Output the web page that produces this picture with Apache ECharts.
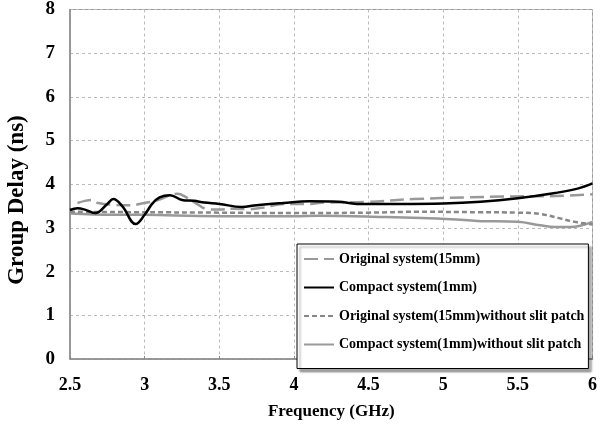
<!DOCTYPE html>
<html>
<head>
<meta charset="utf-8">
<script src="https://cdn.jsdelivr.net/npm/echarts@6/dist/echarts.min.js"></script>
<style>html,body{margin:0;padding:0;background:#fff}#c{width:600px;height:425px}</style>
</head>
<body>
<div id="c"></div>
<script>
var seriesNames = ['Original system(15mm)', 'Compact system(1mm)', 'Original system(15mm)without slit patch', 'Compact system(1mm)without slit patch'];

var origFreq = [2.55, 2.6, 2.65, 2.69, 2.8, 2.9, 3.0, 3.1, 3.17, 3.22, 3.28, 3.35, 3.42, 3.5, 3.6, 3.7, 3.8, 3.93, 4.1, 4.2, 4.5, 4.8, 5.17, 5.4, 5.75, 6.0];
var origVals = [3.57, 3.62, 3.64, 3.57, 3.53, 3.52, 3.57, 3.65, 3.75, 3.78, 3.7, 3.55, 3.43, 3.42, 3.44, 3.43, 3.47, 3.55, 3.55, 3.58, 3.6, 3.66, 3.7, 3.72, 3.73, 3.77];

var compFreq = [2.5, 2.55, 2.6, 2.67, 2.75, 2.79, 2.85, 2.94, 3.0, 3.05, 3.1, 3.17, 3.25, 3.33, 3.4, 3.5, 3.65, 3.75, 3.93, 4.1, 4.3, 4.42, 4.7, 5.0, 5.25, 5.5, 5.75, 5.9, 6.0];
var compVals = [3.41, 3.45, 3.42, 3.34, 3.55, 3.66, 3.5, 3.09, 3.3, 3.55, 3.7, 3.75, 3.64, 3.62, 3.58, 3.55, 3.48, 3.52, 3.57, 3.61, 3.6, 3.55, 3.55, 3.56, 3.6, 3.68, 3.8, 3.9, 4.02];

var origNoSlitFreq = [2.5, 3.0, 3.5, 4.0, 4.5, 4.83, 5.23, 5.5, 5.65, 5.77, 5.88, 6.0];
var origNoSlitVals = [3.37, 3.36, 3.35, 3.34, 3.35, 3.37, 3.36, 3.35, 3.32, 3.23, 3.14, 3.08];

var compNoSlitFreq = [2.5, 2.65, 3.0, 3.5, 4.0, 4.17, 4.6, 5.05, 5.23, 5.5, 5.65, 5.75, 5.85, 6.0];
var compNoSlitVals = [3.33, 3.31, 3.3, 3.27, 3.27, 3.28, 3.25, 3.2, 3.16, 3.14, 3.06, 3.02, 3.02, 3.14];

var xTicks = [2.5, 3, 3.5, 4, 4.5, 5, 5.5, 6];
var yTicks = [0, 1, 2, 3, 4, 5, 6, 7, 8];

function pairs(xs, ys) { return xs.map(function (x, i) { return [x, ys[i]]; }); }

var serif = 'Liberation Serif, Times New Roman, serif';
var chart = echarts.init(document.getElementById('c'));
chart.setOption({
  animation: false,
  backgroundColor: '#fff',
  grid: { left: 70, right: 5, top: 8, bottom: 65, show: true, borderColor: '#999', borderWidth: 1 },
  xAxis: {
    type: 'value', min: xTicks[0], max: xTicks[xTicks.length - 1], interval: 0.5,
    name: 'Frequency (GHz)', nameLocation: 'middle', nameGap: 44,
    nameTextStyle: { fontFamily: serif, fontWeight: 'bold', fontSize: 17, color: '#000' },
    axisLine: { lineStyle: { color: '#888', width: 1.5 } },
    axisTick: { show: true, inside: true, length: 3, lineStyle: { color: '#888' } },
    axisLabel: { fontFamily: serif, fontWeight: 'bold', fontSize: 18, color: '#000', margin: 17,
      formatter: function (v) { return String(v); } },
    splitLine: { show: true, lineStyle: { color: '#bbb', type: [3, 3], width: 1 } }
  },
  yAxis: {
    type: 'value', min: yTicks[0], max: yTicks[yTicks.length - 1], interval: 1,
    axisLine: { show: true, lineStyle: { color: '#888', width: 1.5 } },
    axisTick: { show: false },
    axisLabel: { fontFamily: serif, fontWeight: 'bold', fontSize: 19, color: '#000', margin: 15 },
    splitLine: { show: true, lineStyle: { color: '#bbb', type: [3, 3], width: 1 } }
  },
  graphic: [{
    type: 'text', x: 17, y: 200, rotation: Math.PI / 2,
    style: { text: 'Group Delay (ns)', fontFamily: serif, fontWeight: 'bold', fontSize: 23, fill: '#000',
      align: 'center', verticalAlign: 'middle' }
  }],
  legend: {
    orient: 'vertical', left: 297, top: 244,
    padding: [8, 4, 17, 6], itemGap: 14.5, itemWidth: 30, itemHeight: 14,
    backgroundColor: '#fff', borderColor: '#000', borderWidth: 1,
    shadowColor: 'rgba(0,0,0,0.35)', shadowOffsetX: 3, shadowOffsetY: 3, shadowBlur: 2,
    itemStyle: { opacity: 0 },
    textStyle: { fontFamily: serif, fontWeight: 'bold', fontSize: 14, color: '#000' },
    data: seriesNames
  },
  series: [
    { name: seriesNames[0], type: 'line', smooth: 0.4, symbol: 'none', z: 3,
      data: pairs(origFreq, origVals),
      itemStyle: { color: '#999' }, lineStyle: { color: '#999', width: 2.5, type: [14, 6] } },
    { name: seriesNames[1], type: 'line', smooth: 0.4, symbol: 'none', z: 4,
      data: pairs(compFreq, compVals),
      itemStyle: { color: '#000' }, lineStyle: { color: '#000', width: 2.5 } },
    { name: seriesNames[2], type: 'line', smooth: 0.4, symbol: 'none', z: 2,
      data: pairs(origNoSlitFreq, origNoSlitVals),
      itemStyle: { color: '#888' }, lineStyle: { color: '#888', width: 2.5, type: [5, 3] } },
    { name: seriesNames[3], type: 'line', smooth: 0.4, symbol: 'none', z: 1,
      data: pairs(compNoSlitFreq, compNoSlitVals),
      itemStyle: { color: '#999' }, lineStyle: { color: '#999', width: 2.5 } }
  ]
});
</script>
</body>
</html>
